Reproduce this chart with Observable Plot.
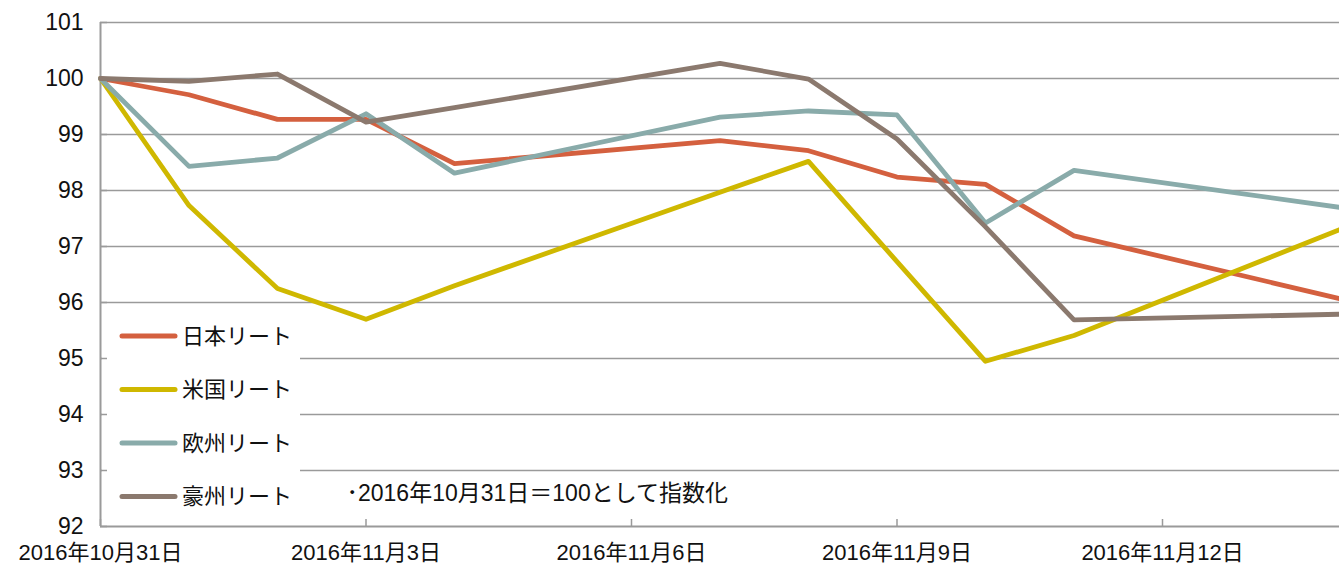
<!DOCTYPE html>
<html>
<head>
<meta charset="utf-8">
<script src="https://cdn.jsdelivr.net/npm/d3@7"></script>
<script src="https://cdn.jsdelivr.net/npm/@observablehq/plot@0.6"></script>
<style>
  html, body { margin: 0; padding: 0; background: #fff; }
  #chart { width: 1339px; height: 567px; overflow: hidden; }
  svg { font-family: "Liberation Sans", "Noto Sans CJK JP", sans-serif; }
</style>
</head>
<body>
<div id="chart"></div>
<script>
// ---- data ----
const dates = ["2016-10-31","2016-11-01","2016-11-02","2016-11-03","2016-11-04",
               "2016-11-07","2016-11-08","2016-11-09","2016-11-10","2016-11-11","2016-11-14"];
const seriesNames = ["日本リート", "米国リート", "欧州リート", "豪州リート"];
const japan  = [100, 99.71, 99.27, 99.27, 98.48, 98.89, 98.71, 98.24, 98.11, 97.19, 96.07];
const us     = [100, 97.73, 96.25, 95.70, 96.30, 97.97, 98.52, 96.73, 94.95, 95.41, 97.30];
const europe = [100, 98.43, 98.58, 99.37, 98.31, 99.31, 99.42, 99.35, 97.42, 98.36, 97.70];
const aus    = [100, 99.95, 100.08, 99.22, 99.48, 100.27, 99.99, 98.92, 97.35, 95.69, 95.79];
const colors = ["#d4603f", "#cfb800", "#89abaa", "#8b796e"];
const xTicks = ["2016-10-31","2016-11-03","2016-11-06","2016-11-09","2016-11-12"];
const yTicks = [92, 93, 94, 95, 96, 97, 98, 99, 100, 101];
const xDomain = ["2016-10-31", "2016-11-14"];
const note = "･2016年10月31日＝100として指数化";

const allValues = [japan, us, europe, aus];
const data = seriesNames.flatMap((name, i) =>
  dates.map((d, j) => ({date: new Date(d + "T00:00:00Z"), value: allValues[i][j], name})));
const tickDates = xTicks.map(d => new Date(d + "T00:00:00Z"));
const fmt = d => `${d.getUTCFullYear()}年${d.getUTCMonth() + 1}月${d.getUTCDate()}日`;
const FONT = '"Liberation Sans", "Noto Sans CJK JP", sans-serif';

// legend drawn inside plot area (white box over gridlines)
function legendMark(index, scales, values, dims) {
  const g = d3.create("svg:g");
  const x0 = dims.marginLeft + 2;
  g.append("rect").attr("x", x0).attr("y", 308).attr("width", 198).attr("height", 212).attr("fill", "#fff");
  seriesNames.forEach((name, i) => {
    const cy = 336 + i * 53.5;
    g.append("line").attr("x1", 122).attr("x2", 175).attr("y1", cy).attr("y2", cy)
      .attr("stroke", colors[i]).attr("stroke-width", 5).attr("stroke-linecap", "round");
    g.append("text").attr("x", 182).attr("y", cy).attr("dy", "0.36em")
      .attr("text-anchor", "start").attr("font-family", FONT)
      .attr("font-size", 22).attr("fill", "#111").text(name);
  });
  return g.node();
}

const chart = Plot.plot({
  width: 1339,
  height: 567,
  marginLeft: 100,
  marginRight: 0,
  marginTop: 22,
  marginBottom: 41,
  style: {fontFamily: FONT, background: "#fff"},
  x: {type: "utc", domain: xDomain.map(d => new Date(d + "T00:00:00Z")), label: null},
  y: {domain: [92, 101], label: null},
  color: {domain: seriesNames, range: colors},
  marks: [
    Plot.gridY(yTicks.slice(1), {stroke: "#9a9a9a", strokeOpacity: 1, strokeWidth: 1.6}),
    legendMark,
    Plot.ruleY([92], {stroke: "#9a9a9a", strokeWidth: 2}),
    Plot.ruleX([new Date(xDomain[0] + "T00:00:00Z")], {stroke: "#9a9a9a", strokeWidth: 2}),
    Plot.axisX(tickDates, {tickSize: -7, tickFormat: () => "", label: null, stroke: "#9a9a9a", strokeWidth: 1.5}),
    Plot.axisX(tickDates, {tickSize: 0, tickPadding: 18, tickFormat: fmt, label: null, fontSize: 22, fill: "#111"}),
    Plot.axisY(yTicks, {tickSize: -7, tickFormat: () => "", label: null, stroke: "#9a9a9a", strokeWidth: 1.5}),
    Plot.axisY(yTicks, {tickSize: 0, tickPadding: 17, tickFormat: d => String(d), label: null, fontSize: 23, fill: "#111"}),
    Plot.lineY(data, {x: "date", y: "value", stroke: "name", strokeWidth: 4.8, strokeLinejoin: "round", strokeLinecap: "round"}),
    Plot.text([note], {frameAnchor: "bottom-left", dx: 246, dy: -26, textAnchor: "start", fontSize: 23, fill: "#111"})
  ]
});
document.getElementById("chart").appendChild(chart);
</script>
</body>
</html>
